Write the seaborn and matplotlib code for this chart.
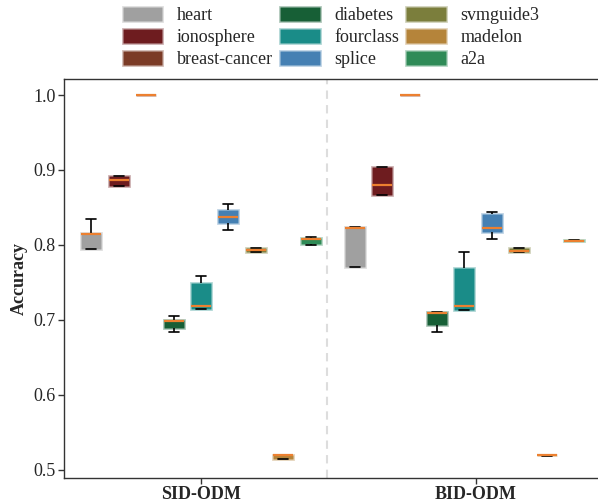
import numpy as np
import pandas as pd
import seaborn as sns
import matplotlib.pyplot as plt
from matplotlib.colors import to_rgba

# accuracy over runs (five runs per dataset), order matches datasets
datasets = ["heart", "ionosphere", "breast-cancer", "diabetes", "fourclass",
            "splice", "svmguide3", "madelon", "a2a"]
methods = ["SID-ODM", "BID-ODM"]

sid_acc = [
    [0.795, 0.795, 0.815, 0.816, 0.834],
    [0.878, 0.878, 0.886, 0.892, 0.892],
    [1.000, 1.000, 1.000, 1.000, 1.000],
    [0.684, 0.689, 0.698, 0.700, 0.705],
    [0.714, 0.714, 0.719, 0.749, 0.759],
    [0.820, 0.829, 0.837, 0.846, 0.855],
    [0.791, 0.791, 0.793, 0.796, 0.796],
    [0.514, 0.514, 0.519, 0.520, 0.520],
    [0.800, 0.801, 0.808, 0.809, 0.811],
]
bid_acc = [
    [0.770, 0.770, 0.823, 0.824, 0.824],
    [0.866, 0.866, 0.880, 0.904, 0.904],
    [1.000, 1.000, 1.000, 1.000, 1.000],
    [0.683, 0.693, 0.709, 0.710, 0.710],
    [0.713, 0.713, 0.719, 0.769, 0.790],
    [0.808, 0.817, 0.823, 0.841, 0.844],
    [0.791, 0.791, 0.792, 0.796, 0.796],
    [0.5185, 0.519, 0.519, 0.5195, 0.5195],
    [0.805, 0.805, 0.8055, 0.807, 0.807],
]

colors = ["#a0a0a0", "#6e1c1f", "#7b3b26", "#175f36", "#1a8c88",
          "#4580b3", "#7b7e3c", "#b5843a", "#2f8b57"]

rows = []
for method, acc in zip(methods, [sid_acc, bid_acc]):
    for name, vals in zip(datasets, acc):
        for v in vals:
            rows.append({"method": method, "dataset": name, "acc": v})
df = pd.DataFrame(rows)

sns.set_theme(style="ticks")
plt.rcParams["font.family"] = ["Liberation Serif", "DejaVu Serif"]
plt.rcParams["font.size"] = 13

fig = plt.figure(figsize=(5.98, 5.04), dpi=100)
ax = fig.add_axes([0.107, 0.052, 0.893, 0.791])

sns.boxplot(
    data=df, x="method", y="acc", hue="dataset",
    order=methods, hue_order=datasets, palette=colors,
    width=0.936, gap=0.27, saturation=1, whis=(0, 100),
    linecolor="black", linewidth=1.2, showfliers=False,
    medianprops={"color": "#ec8030", "linewidth": 1.6, "zorder": 4},
    capprops={"zorder": 3},
    ax=ax,
)

# soft edge round each box
for p in ax.patches:
    fc = p.get_facecolor()
    p.set_edgecolor(to_rgba(fc[:3], 0.35))
    p.set_linewidth(2.0)

ax.axvline(0.479, color="#dddddd", linestyle=(0, (4, 3)), linewidth=1.5, zorder=0)

ax.set_xlim(-0.52, 1.507)
ax.set_ylim(0.489, 1.0213)
ax.set_yticks([0.5, 0.6, 0.7, 0.8, 0.9, 1.0])
ax.set_yticklabels(["0.5", "0.6", "0.7", "0.8", "0.9", "1.0"], fontsize=13)
ax.set_xticks([0, 1.0425])
ax.set_xticklabels(methods, fontsize=13, fontweight="bold")
ax.set_xlabel("")
ax.set_ylabel("Accuracy", fontsize=13, fontweight="bold", labelpad=4)
ax.spines["right"].set_visible(False)
for s in ["left", "bottom", "top"]:
    ax.spines[s].set_color("#333333")
    ax.spines[s].set_linewidth(1.0)
ax.tick_params(axis="both", length=4, width=1, color="#333333", pad=2)

handles, labels = ax.get_legend_handles_labels()
ax.legend(handles, labels, loc="lower center", bbox_to_anchor=(0.5, 1.0),
          ncol=3, frameon=False, fontsize=13, handlelength=2.2,
          handleheight=0.85, handletextpad=0.8, columnspacing=0.4,
          labelspacing=0.25, borderaxespad=0.2)

plt.savefig("out.png", dpi=100)
